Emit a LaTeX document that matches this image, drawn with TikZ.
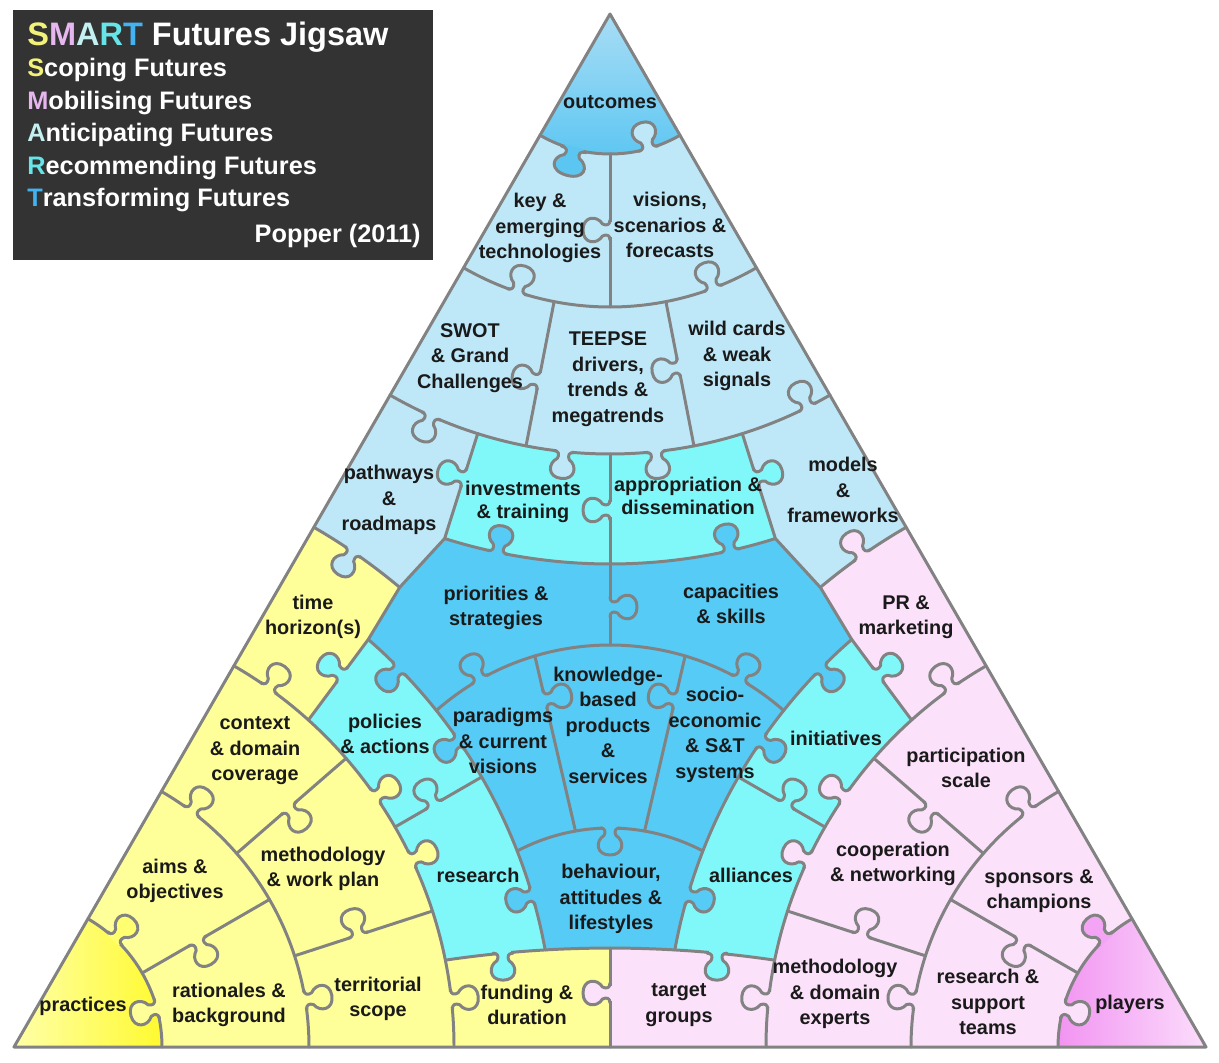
\documentclass[tikz,border=0pt]{standalone}
\usepackage{fontspec}
\setmainfont{Liberation Sans}
\usetikzlibrary{calc}
\definecolor{lblue}{HTML}{BEE8F8}
\definecolor{cyanp}{HTML}{80F8FA}
\definecolor{bluep}{HTML}{55CBF5}
\definecolor{yel}{HTML}{FFFF99}
\definecolor{pnk}{HTML}{FCE1FA}
\definecolor{edgec}{HTML}{828282}
\definecolor{boxc}{HTML}{333333}
\definecolor{outtop}{HTML}{A8DDF5}
\definecolor{outbot}{HTML}{5CC6F2}
\definecolor{pracA}{HTML}{FFFFA8}
\definecolor{pracB}{HTML}{FFFA30}
\definecolor{pracK}{HTML}{FFFF70}
\definecolor{playA}{HTML}{F294F2}
\definecolor{playB}{HTML}{FBDDFB}
\definecolor{playK}{HTML}{F4A4F4}
\definecolor{cS}{HTML}{F2F27A}
\definecolor{cM}{HTML}{E6B6EE}
\definecolor{cA}{HTML}{C4F0F2}
\definecolor{cR}{HTML}{66E4E8}
\definecolor{cT}{HTML}{42B2F0}
\definecolor{txt}{HTML}{1A1A1A}
\tikzset{
  edge/.style={draw=edgec,line width=1.7pt,line join=round,line cap=round},
  lbl/.style={font=\bfseries\fontsize{11.3}{14.5}\selectfont,align=center,inner sep=0pt,text=txt},
  lbltight/.style={lbl,font=\bfseries\fontsize{11.3}{12.8}\selectfont},
  ttl/.style={font=\bfseries\fontsize{18.5}{22}\selectfont,text=white,inner sep=0pt},
  sub/.style={font=\bfseries\fontsize{14.4}{17}\selectfont,text=white,inner sep=0pt}
}
\newcommand\ARC[4]{($(#1)+(#2:#4)$) arc[start angle=#2,end angle=#3,radius=#4*0.02cm]}
\newcommand\KP{(-10,0) .. controls (-5,0) and (-4,3.5) .. (-6,7.5) .. controls (-15,13) and (-14,27) .. (0,27) .. controls (14,27) and (15,13) .. (6,7.5) .. controls (4,3.5) and (5,0) .. (10,0)}
\newcommand\knob[4][]{\begin{scope}[shift={#2},rotate={#3-90},#1]
 \fill[#4] (-7.5,-2.6) rectangle (7.5,1.6);
 \fill[#4] \KP -- cycle;
 \draw[edge] \KP;
\end{scope}}
\begin{document}
\begin{tikzpicture}[x=0.02cm,y=0.02cm]
\useasboundingbox (0,0) rectangle (1219,1062);
\fill[white] (0,0) rectangle (1219,1062);
% key points
\coordinate (A) at (610,1048);
\coordinate (L) at (14,15);
\coordinate (R) at (1206,15);
\coordinate (Ci) at (610,154);
\coordinate (Cbh) at (610,35);
\coordinate (Cb) at (610,-1012.7);
\coordinate (P1) at ($(A)+(252.5:440)$);
\coordinate (P1r) at ($(A)+(287.5:440)$);
\coordinate (P2) at ($(A)+(252.5:550)$);
\coordinate (P2r) at ($(A)+(287.5:550)$);
\coordinate (P3) at ($(L)+(50:600)$);
\coordinate (P3r) at ($(R)+(130:600)$);
\coordinate (P4) at ($(L)+(49:540)$);
\coordinate (P4r) at ($(R)+(131:540)$);
\coordinate (P5) at ($(L)+(48:440)$);
\coordinate (P5r) at ($(R)+(132:440)$);
\coordinate (D1) at ($(Ci)+(106.6:263)$);
\coordinate (D1r) at ($(Ci)+(73.4:263)$);
\coordinate (D2) at ($(Cbh)+(100:199)$);
\coordinate (D2r) at ($(Cbh)+(80:199)$);
% ---------- fills
\fill[lblue] (A) -- (L) -- (R) -- cycle;
\begin{scope}
 \clip (0,0) rectangle (610,1062);
 \fill[yel] (L) -- ($(L)+(0:600)$) arc[start angle=0,end angle=60,radius=12cm] -- cycle;
 \fill[yel] (430,15) rectangle (610,130);
\end{scope}
\begin{scope}
 \clip (610,0) rectangle (1219,1062);
 \fill[pnk] (R) -- ($(R)+(120:600)$) arc[start angle=120,end angle=180,radius=12cm] -- cycle;
 \fill[pnk] (610,15) rectangle (790,130);
\end{scope}
\fill[cyanp] (P1) arc[start angle=252.5,end angle=287.5,radius=8.8cm] -- (P2r) -- (P3r) -- (P4r) -- (P5r)
  arc[start angle=132,end angle=168.6,radius=8.8cm] -- ($(Cb)+(81.63:1126.7)$)
  arc[start angle=81.63,end angle=98.37,radius=22.534cm] -- ($(L)+(11.4:440)$)
  arc[start angle=11.4,end angle=48,radius=8.8cm] -- (P4) -- (P3) -- (P2) -- cycle;
\fill[bluep] (P2) arc[start angle=252.5,end angle=287.5,radius=11cm] -- (P3r) -- (P4r)
  arc[start angle=131,end angle=169.65,radius=10.8cm] -- ($(Cb)+(86.7:1126.7)$)
  arc[start angle=86.7,end angle=93.3,radius=22.534cm] -- ($(L)+(10.35:540)$)
  arc[start angle=10.35,end angle=49,radius=10.8cm] -- (P3) -- cycle;
\shade[top color=outtop,bottom color=outbot] (A) -- ($(A)+(240:140)$) arc[start angle=240,end angle=300,radius=2.8cm] -- cycle;
\shade[left color=pracA,right color=pracB] (L) -- ($(L)+(0:148)$) arc[start angle=0,end angle=60,radius=2.96cm] -- cycle;
\shade[left color=playA,right color=playB] (R) -- ($(R)+(120:148)$) arc[start angle=120,end angle=180,radius=2.96cm] -- cycle;
% ---------- boundaries
\draw[edge] \ARC{A}{240}{300}{140};
\draw[edge] \ARC{A}{240}{300}{293};
\draw[edge] \ARC{A}{240}{300}{440};
\draw[edge] \ARC{A}{252.5}{287.5}{550};
\draw[edge] ($(A)+(270:140)$) -- ($(A)+(270:293)$);
\draw[edge] ($(A)+(259:293)$) -- ($(A)+(259:440)$);
\draw[edge] ($(A)+(281:293)$) -- ($(A)+(281:440)$);
\draw[edge] (P1) -- (P2) -- (P3) -- (P4) -- (P5);
\draw[edge] (P1r) -- (P2r) -- (P3r) -- (P4r) -- (P5r);
\draw[edge] ($(A)+(270:440)$) -- ($(Ci)+(90:263)$);
\draw[edge] \ARC{L}{50}{60}{600};
\draw[edge] \ARC{R}{120}{130}{600};
\draw[edge] \ARC{L}{0}{60}{440};
\draw[edge] \ARC{R}{120}{180}{440};
\draw[edge] \ARC{L}{0}{60}{295};
\draw[edge] \ARC{R}{120}{180}{295};
\draw[edge] \ARC{L}{0}{60}{148};
\draw[edge] \ARC{R}{120}{180}{148};
\draw[edge] ($(L)+(30:148)$) -- ($(L)+(30:295)$);
\draw[edge] ($(R)+(150:148)$) -- ($(R)+(150:295)$);
\draw[edge] ($(L)+(18:295)$) -- ($(L)+(18:440)$);
\draw[edge] ($(L)+(41:295)$) -- ($(L)+(41:440)$);
\draw[edge] ($(R)+(162:295)$) -- ($(R)+(162:440)$);
\draw[edge] ($(R)+(139:295)$) -- ($(R)+(139:440)$);
\draw[edge] ($(L)+(30:440)$) -- ($(L)+(30:540)$);
\draw[edge] ($(R)+(150:440)$) -- ($(R)+(150:540)$);
\draw[edge] \ARC{L}{10.35}{49}{540};
\draw[edge] \ARC{R}{131}{169.65}{540};
\draw[edge] \ARC{Ci}{131.3}{48.7}{263};
\draw[edge] \ARC{Cbh}{117.7}{62.3}{199};
\draw[edge] (D1) -- (D2);
\draw[edge] (D1r) -- (D2r);
\draw[edge] \ARC{Cb}{98.37}{81.63}{1126.7};
\draw[edge] ($(Cb)+(90:1126.7)$) -- (610,15);
\draw[edge] (A) -- (L) -- (R) -- cycle;
% ---------- knobs: top
\knob[xscale=1.3]{($(A)+(255:140)$)}{255}{outbot}
\knob{($(A)+(286:140)$)}{106}{lblue}
\knob{(610,832)}{180}{lblue}
\knob{($(A)+(251.5:293)$)}{71.5}{lblue}
\knob{($(A)+(290.6:293)$)}{110.6}{lblue}
\knob{($(A)+(259:373)$)}{169}{lblue}
\knob{($(A)+(281:360)$)}{191}{lblue}
\knob{($(A)+(246:440)$)}{246}{lblue}
\knob{($(A)+(264:440)$)}{264}{lblue}
\knob{($(A)+(276:440)$)}{276}{lblue}
\knob{($(A)+(296.7:440)$)}{116.7}{lblue}
\knob{($(P1)!0.42!(P2)$)}{162.5}{cyanp}
\knob{($(P1r)!0.42!(P2r)$)}{17.5}{cyanp}
\knob{(610,552)}{180}{cyanp}
\knob{($(A)+(258.2:550)$)}{78.2}{bluep}
\knob{($(A)+(282.6:550)$)}{102.6}{bluep}
\knob{(610,455)}{0}{bluep}
\knob{($(L)+(55.6:600)$)}{235.6}{lblue}
\knob{($(R)+(125:600)$)}{125}{pnk}
% ---------- knobs: sides and centre
\knob{($(L)+(54.6:440)$)}{54.6}{yel}
\knob{($(R)+(125.4:440)$)}{125.4}{pnk}
\knob{($(P4)!0.44!(P5)$)}{143.3}{cyanp}
\knob{($(P4r)!0.44!(P5r)$)}{36.7}{cyanp}
\knob{($(L)+(44.5:540)$)}{224.5}{bluep}
\knob{($(R)+(135.5:540)$)}{-44.5}{bluep}
\knob{($(L)+(30:485)$)}{120}{cyanp}
\knob{($(R)+(150:485)$)}{60}{cyanp}
\knob{($(L)+(34.5:540)$)}{214.5}{bluep}
\knob{($(R)+(145.5:540)$)}{-34.5}{bluep}
\knob{($(Ci)+(119.6:263)$)}{119.6}{bluep}
\knob{($(Ci)+(60.4:263)$)}{60.4}{bluep}
\knob{($(D1)!0.25!(D2)$)}{13}{bluep}
\knob{($(D1r)!0.25!(D2r)$)}{167}{bluep}
\knob{($(Cbh)+(90:199)$)}{270}{bluep}
\knob{($(L)+(16.3:540)$)}{196.3}{bluep}
\knob{($(R)+(163.7:540)$)}{-16.3}{bluep}
\knob{($(Cb)+(95.45:1126.7)$)}{270}{cyanp}
\knob{($(Cb)+(84.55:1126.7)$)}{270}{cyanp}
\knob{(610,69)}{180}{pnk}
\knob{($(L)+(6.2:440)$)}{6.2}{yel}
\knob{($(R)+(173.8:440)$)}{173.8}{pnk}
\knob{($(L)+(34.7:440)$)}{34.7}{yel}
\knob{($(R)+(145.3:440)$)}{145.3}{pnk}
\knob{($(L)+(25.2:440)$)}{25.2}{yel}
\knob{($(R)+(154.8:440)$)}{154.8}{pnk}
\knob{($(L)+(9.2:295)$)}{9.2}{yel}
\knob{($(R)+(170.8:295)$)}{170.8}{pnk}
\knob{($(L)+(18:362)$)}{108}{yel}
\knob{($(R)+(162:362)$)}{72}{pnk}
\knob{($(L)+(41:364)$)}{-49}{yel}
\knob{($(R)+(139:364)$)}{229}{pnk}
\knob{($(L)+(53:295)$)}{53}{yel}
\knob{($(R)+(127:295)$)}{127}{pnk}
\knob{($(L)+(47:148)$)}{47}{pracK}
\knob{($(R)+(133:148)$)}{133}{playK}
\knob{($(L)+(15:148)$)}{195}{yel}
\knob{($(R)+(165:148)$)}{-15}{pnk}
\knob{($(L)+(30:212)$)}{-60}{yel}
\knob{($(R)+(150:212)$)}{240}{pnk}
% ---------- labels
\node[lbl] (t1) at (610,960) {outcomes};
\node[lbl] (t2) at (540,834) {key \&\\emerging\\technologies};
\node[lbl] (t3) at (670,837) {visions,\\scenarios \&\\forecasts};
\node[lbl] (t4) at (470,704) {SWOT\\\& Grand\\Challenges};
\node[lbl] (t5) at (608,683) {TEEPSE\\drivers,\\trends \&\\megatrends};
\node[lbl] (t6) at (737,706) {wild cards\\\& weak\\signals};
\node[lbl] (t7) at (389,562) {pathways\\\&\\roadmaps};
\node[lbltight] (t8) at (523,560) {investments\\\& training};
\node[lbltight] (t9) at (688,566) {appropriation \&\\dissemination};
\node[lbl] (t10) at (843,572) {models\\\&\\frameworks};
\node[lbl] (t11) at (496,454) {priorities \&\\strategies};
\node[lbl] (t12) at (731,458) {capacities\\\& skills};
\node[lbl] (t13) at (313,445) {time\\horizon(s)};
\node[lbl] (t14) at (906,445) {PR \&\\marketing};
\node[lbl] (t15) at (255,311) {context\\\& domain\\coverage};
\node[lbl] (t16) at (385,328) {policies\\\& actions};
\node[lbl] (t17) at (503,321) {paradigms\\\& current\\visions};
\node[lbl] (t18) at (608,337) {knowledge-\\based\\products\\\&\\services};
\node[lbl] (t19) at (715,327) {socio-\\economic\\\& S\&T\\systems};
\node[lbl] (t20) at (836,324) {initiatives};
\node[lbl] (t21) at (966,294) {participation\\scale};
\node[lbl] (t22) at (478,187) {research};
\node[lbl] (t23) at (611,163) {behaviour,\\attitudes \&\\lifestyles};
\node[lbl] (t24) at (751,187) {alliances};
\node[lbl] (t25) at (175,181) {aims \&\\objectives};
\node[lbl] (t26) at (323,193) {methodology\\\& work plan};
\node[lbl] (t27) at (893,198) {cooperation\\\& networking};
\node[lbl] (t28) at (1039,171) {sponsors \&\\champions};
\node[lbl] (t29) at (83,56) {practices};
\node[lbl] (t30) at (229,57) {rationales \&\\background};
\node[lbl] (t31) at (378,63) {territorial\\scope};
\node[lbl] (t32) at (527,57) {funding \&\\duration};
\node[lbl] (t33) at (679,57) {target\\groups};
\node[lbl] (t34) at (835,68) {methodology\\\& domain\\experts};
\node[lbl] (t35) at (988,60) {research \&\\support\\teams};
\node[lbl] (t36) at (1130,58) {players};
% ---------- title box
\fill[boxc] (13,802) rectangle (433,1052);
\node[ttl,anchor=base west] (h0) at (27,1016) {{\color{cS}S}{\color{cM}M}{\color{cA}A}{\color{cR}R}{\color{cT}T} Futures Jigsaw};
\node[sub,anchor=base west] (h1) at (27,985) {{\color{cS}S}coping Futures};
\node[sub,anchor=base west] (h2) at (27,952) {{\color{cM}M}obilising Futures};
\node[sub,anchor=base west] (h3) at (27,920) {{\color{cA}A}nticipating Futures};
\node[sub,anchor=base west] (h4) at (27,887) {{\color{cR}R}ecommending Futures};
\node[sub,anchor=base west] (h5) at (27,855) {{\color{cT}T}ransforming Futures};
\node[sub,anchor=base east] (h6) at (421,819) {Popper (2011)};
\end{tikzpicture}
\end{document}
